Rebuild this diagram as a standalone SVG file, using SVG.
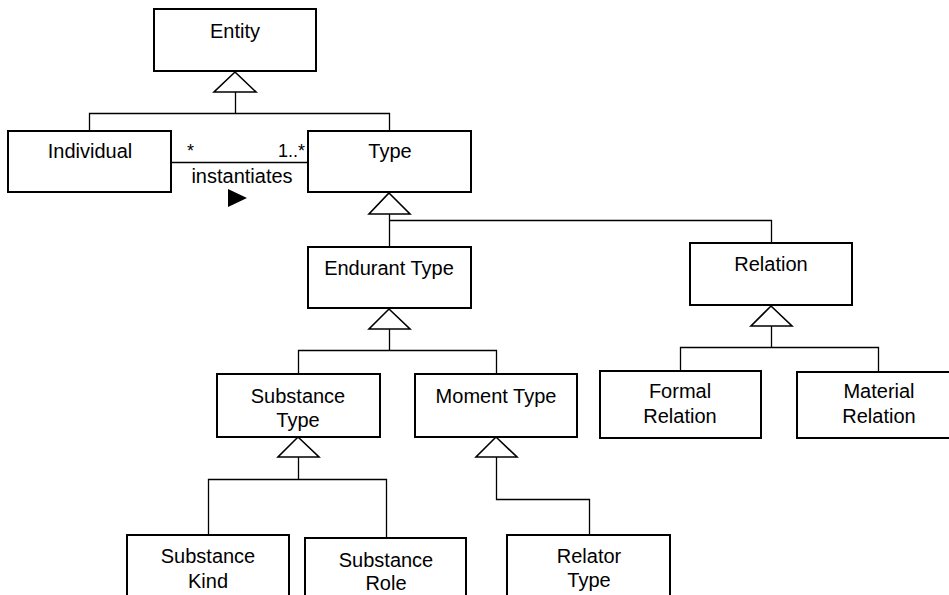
<svg xmlns="http://www.w3.org/2000/svg" width="949" height="595" viewBox="0 0 949 595">
  <style>
    .box { fill: #ffffff; stroke: #000000; stroke-width: 2; }
    .lbl { font-family: "Liberation Sans", Arial, sans-serif; font-size: 20px; fill: #000000; text-anchor: middle; }
    .mult { font-family: "Liberation Sans", Arial, sans-serif; font-size: 18px; fill: #000000; }
    .edge { fill: none; stroke: #000000; stroke-width: 1.3; }
    .gen { fill: #ffffff; stroke: #000000; stroke-width: 1.6; stroke-linejoin: miter; }
  </style>
  <rect width="949" height="595" fill="#ffffff"/>

  <!-- generalisation and association lines -->
  <g id="connectors">
    <!-- Entity <- Individual, Type -->
    <path class="edge" d="M235.5 92 V113.5 M89.5 131 V113.5 H389.5 V131"/>
    <!-- Type <- Endurant Type, Relation -->
    <path class="edge" d="M389.5 214 V247 M389.5 220.5 H771.5 V243"/>
    <!-- Endurant Type <- Substance Type, Moment Type -->
    <path class="edge" d="M389.5 329 V350.5 M298.5 374 V350.5 H496.5 V374"/>
    <!-- Relation <- Formal Relation, Material Relation -->
    <path class="edge" d="M771.5 326 V347.5 M680.5 371 V347.5 H878.5 V372"/>
    <!-- Substance Type <- Substance Kind, Substance Role -->
    <path class="edge" d="M298.5 457 V479.5 M208.5 535 V479.5 H386.5 V538"/>
    <!-- Moment Type <- Relator Type -->
    <path class="edge" d="M496.5 457 V499.5 H589.5 V535"/>
    <!-- instantiates association -->
    <path class="edge" d="M171 162.5 H308"/>
    <text class="mult" x="187" y="157">*</text>
    <text class="mult" x="305" y="157" text-anchor="end">1..*</text>
    <text class="lbl" x="242" y="183">instantiates</text>
    <polygon points="228,189 247,198 228,207" fill="#000000"/>
    <!-- hollow generalisation heads -->
    <polygon class="gen" points="235,72 256,92 214,92"/>
    <polygon class="gen" points="389,193 410,214 369,214"/>
    <polygon class="gen" points="389,309 410,329 369,329"/>
    <polygon class="gen" points="771,306 792,326 751,326"/>
    <polygon class="gen" points="298,437 319,457 278,457"/>
    <polygon class="gen" points="496,437 517,457 476,457"/>
  </g>

  <g id="entity">
    <rect class="box" x="154" y="9" width="162" height="62"/>
    <text class="lbl" x="235" y="38">Entity</text>
  </g>
  <g id="individual">
    <rect class="box" x="8" y="131" width="163" height="61"/>
    <text class="lbl" x="90" y="158">Individual</text>
  </g>
  <g id="type">
    <rect class="box" x="308" y="131" width="163" height="61"/>
    <text class="lbl" x="390" y="158">Type</text>
  </g>
  <g id="endurant-type">
    <rect class="box" x="308" y="247" width="163" height="61"/>
    <text class="lbl" x="389" y="275">Endurant Type</text>
  </g>
  <g id="relation">
    <rect class="box" x="690" y="243" width="162" height="62"/>
    <text class="lbl" x="771" y="271">Relation</text>
  </g>
  <g id="substance-type">
    <rect class="box" x="217" y="374" width="163" height="63"/>
    <text class="lbl" x="298" y="403">Substance</text>
    <text class="lbl" x="298" y="427">Type</text>
  </g>
  <g id="moment-type">
    <rect class="box" x="415" y="374" width="162" height="63"/>
    <text class="lbl" x="496" y="403">Moment Type</text>
  </g>
  <g id="formal-relation">
    <rect class="box" x="600" y="371" width="161" height="67"/>
    <text class="lbl" x="680" y="398">Formal</text>
    <text class="lbl" x="680" y="423">Relation</text>
  </g>
  <g id="material-relation">
    <rect class="box" x="797" y="372" width="161" height="66"/>
    <text class="lbl" x="879" y="398">Material</text>
    <text class="lbl" x="879" y="423">Relation</text>
  </g>
  <g id="substance-kind">
    <rect class="box" x="127" y="535" width="162" height="70"/>
    <text class="lbl" x="208" y="563">Substance</text>
    <text class="lbl" x="208" y="588">Kind</text>
  </g>
  <g id="substance-role">
    <rect class="box" x="305" y="538" width="161" height="70"/>
    <text class="lbl" x="386" y="567">Substance</text>
    <text class="lbl" x="386" y="590">Role</text>
  </g>
  <g id="relator-type">
    <rect class="box" x="507" y="535" width="163" height="70"/>
    <text class="lbl" x="589" y="563">Relator</text>
    <text class="lbl" x="589" y="587">Type</text>
  </g>
</svg>
